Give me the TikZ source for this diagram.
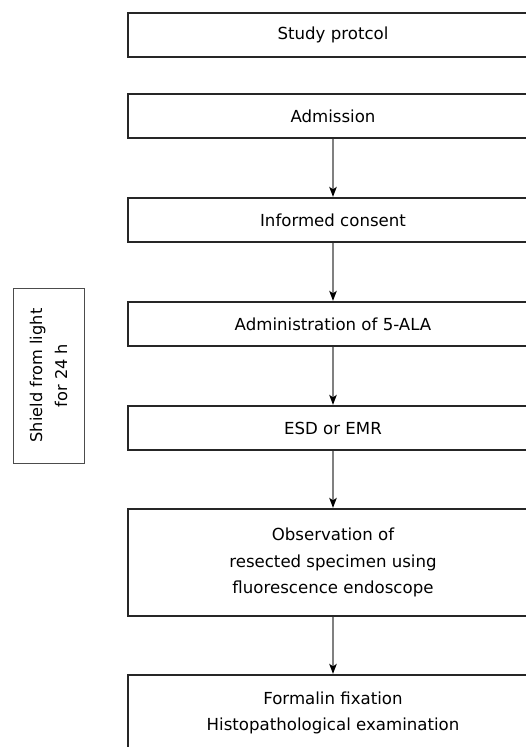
\documentclass[tikz,border=0pt]{standalone}
\usepackage{fontspec}
\setmainfont{DejaVu Sans}
\usetikzlibrary{arrows.meta}
\begin{document}
\begin{tikzpicture}[x=1pt,y=-1pt,
  stepbox/.style={draw=black!85, line width=1.1pt, minimum width=410pt, inner sep=0pt, align=center, font=\fontsize{16.6}{26.8}\selectfont},
  flow/.style={draw=black!50, line width=1.4pt, -{Stealth[length=10pt,width=7.5pt,inset=2.5pt,fill=black,color=black]}, shorten >=0.6pt}
]
\useasboundingbox (0,0) rectangle (526,747);
\clip (0,0) rectangle (526,747);
\node[stepbox, minimum height=44pt] (b1) at (333,35) {Study protcol};
\node[stepbox, minimum height=44pt] (b2) at (333,116) {Admission};
\node[stepbox, minimum height=44pt] (b3) at (333,220) {Informed consent};
\node[stepbox, minimum height=44pt] (b4) at (333,324) {Administration of 5-ALA};
\node[stepbox, minimum height=44pt] (b5) at (333,428) {ESD or EMR};
\node[stepbox, minimum height=107pt] (b6) at (333,562.5) {Observation of\\resected specimen using\\fluorescence endoscope};
\node[stepbox, minimum height=76pt] (b7) at (333,713) {Formalin fixation\\Histopathological examination};
\node[draw=black!70, line width=1pt, minimum width=175pt, minimum height=71pt, inner sep=0pt, align=center, rotate=90, font=\fontsize{16.2}{25}\selectfont] (sh) at (48.5,375.5) {Shield from light\\for 24 h};
\draw[flow] (b2.south) -- (b3.north);
\draw[flow] (b3.south) -- (b4.north);
\draw[flow] (b4.south) -- (b5.north);
\draw[flow] (b5.south) -- (b6.north);
\draw[flow] (b6.south) -- (b7.north);
\end{tikzpicture}
\end{document}
